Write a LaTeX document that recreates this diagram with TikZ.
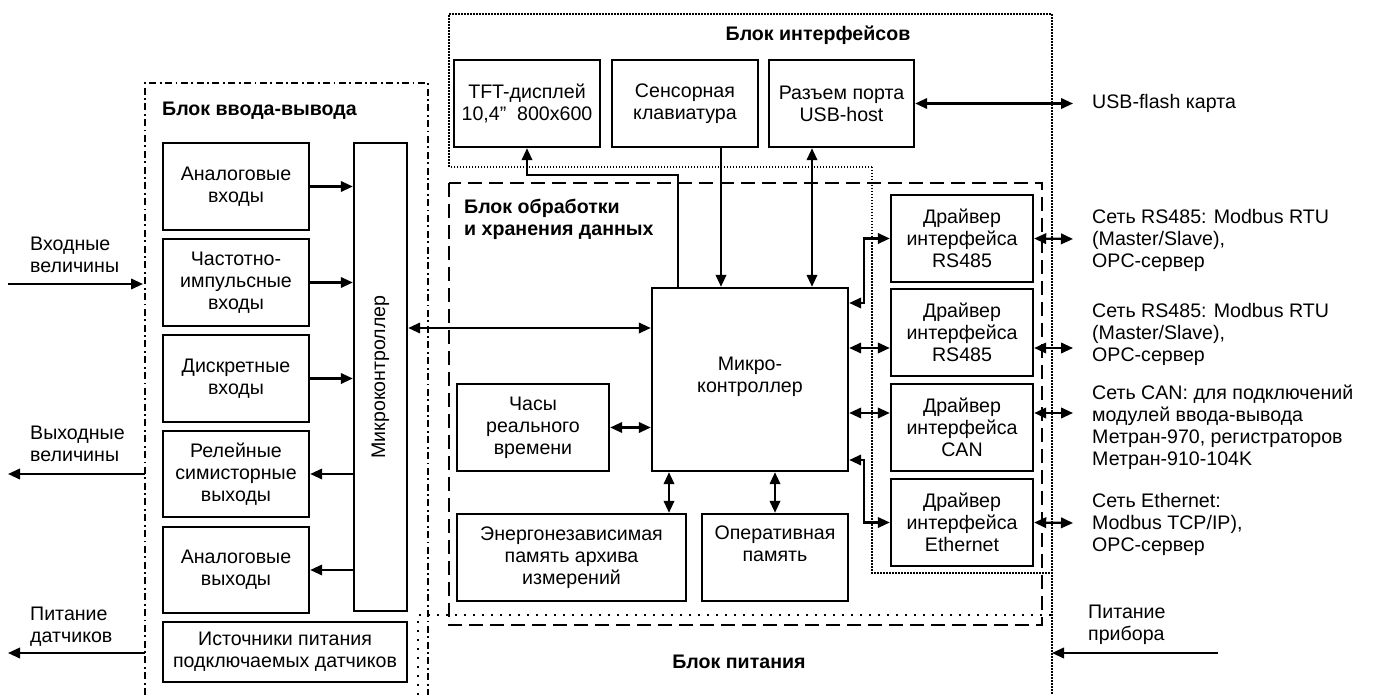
\documentclass[tikz,border=0pt]{standalone}
\usepackage{fontspec}
\setmainfont{Liberation Sans}
\usetikzlibrary{arrows.meta}
\newcommand\fs{\fontsize{19.6}{22}\selectfont}
\begin{document}
\begin{tikzpicture}[x=1pt,y=-1pt,
 box/.style={draw, line width=2.4pt, align=center, inner sep=0pt, font=\fs},
 conn/.style={line width=2.2pt},
 arr/.style={conn, -{Triangle[length=12pt,width=10.5pt]}},
 biarr/.style={conn, {Triangle[length=12pt,width=10.5pt]}-{Triangle[length=12pt,width=10.5pt]}},
 lbl/.style={align=left, inner sep=0pt, font=\fs, anchor=west},
 ttl/.style={font=\fs\bfseries, inner sep=0pt},
 iofr/.style={line width=1.8pt, dash pattern=on 7pt off 3.5pt on 1.8pt off 3.5pt},
 iffr/.style={line width=1.5pt, dash pattern=on 1.5pt off 1.5pt},
 pfr/.style={line width=2pt, dash pattern=on 2pt off 7pt},
 dfr/.style={line width=2pt, dash pattern=on 14pt off 7pt}
]
\useasboundingbox (0,0) rectangle (1379,695);
% frames
\draw[iofr] (145,695) -- (145,83) -- (428,83) -- (428,695);
\draw[iffr] (872,167) -- (449,167) -- (449,14) -- (1052,14) -- (1052,695);
\draw[iffr] (872,167) -- (872,573) -- (1052,573);
\draw[dfr] (449,183) rectangle (1042,625);
\draw[pfr] (418,695) -- (418,615) -- (1052,615);
% titles
\node[ttl, anchor=west] (tio) at (162,111) {Блок ввода-вывода};
\node[ttl] (tif) at (818,35) {Блок интерфейсов};
\node[ttl, align=left, anchor=west] (tpr) at (464,219) {Блок обработки\\и хранения данных};
\node[ttl] (tpw) at (739,662) {Блок питания};
% I/O block
\node[box, minimum width=146pt, minimum height=87pt] (ai) at (236,186.5) {Аналоговые\\входы};
\node[box, minimum width=146pt, minimum height=87pt] (fi) at (236,282.5) {Частотно-\\импульсные\\входы};
\node[box, minimum width=146pt, minimum height=87pt] (di) at (236,378.5) {Дискретные\\входы};
\node[box, minimum width=146pt, minimum height=86pt] (ro) at (236,474) {Релейные\\симисторные\\выходы};
\node[box, minimum width=146pt, minimum height=86pt] (ao) at (236,570) {Аналоговые\\выходы};
\node[box, minimum width=244pt, minimum height=60pt] (ps) at (285,652) {Источники питания\\подключаемых датчиков};
\node[box, minimum width=53pt, minimum height=468pt] (mc1) at (380.5,377) {};
\node[font=\fs, rotate=90, inner sep=0pt] (mc1t) at (mc1.center) {Микроконтроллер};
% interface block
\node[box, minimum width=146pt, minimum height=87pt] (tft) at (527,103.5) {TFT-дисплей\\10,4”\ \ 800x600};
\node[box, minimum width=146pt, minimum height=87pt] (kbd) at (685,103.5) {Сенсорная\\клавиатура};
\node[box, minimum width=145pt, minimum height=87pt] (usb) at (841.5,103.5) {Разъем порта\\USB-host};
% processing block
\node[box, minimum width=196pt, minimum height=183pt] (mcu) at (750,379.5) {};
\node[font=\fs, align=center, inner sep=0pt] (mcut) at (750,377) {Микро-\\контроллер};
\node[box, minimum width=152pt, minimum height=87pt] (clk) at (533,427.5) {Часы\\реального\\времени};
\node[box, minimum width=229pt, minimum height=87pt] (nv) at (571.5,557.5) {Энергонезависимая\\память архива\\измерений};
\node[box, minimum width=146pt, minimum height=87pt] (ram) at (775,557.5) {Оперативная\\память\\\strut};
% drivers
\node[box, minimum width=142pt, minimum height=87pt] (d1) at (962,238.5) {Драйвер\\интерфейса\\RS485};
\node[box, minimum width=142pt, minimum height=87pt] (d2) at (962,332.5) {Драйвер\\интерфейса\\RS485};
\node[box, minimum width=142pt, minimum height=87pt] (d3) at (962,427.5) {Драйвер\\интерфейса\\CAN};
\node[box, minimum width=142pt, minimum height=87pt] (d4) at (962,522.5) {Драйвер\\интерфейса\\Ethernet};
% external labels
\node[lbl] (lin) at (30,255) {Входные\\величины};
\node[lbl] (lout) at (30,444) {Выходные\\величины};
\node[lbl] (lpw) at (30,627) {Питание\\датчиков};
\node[lbl] (lpp) at (1088,625) {Питание\\прибора};
\node[lbl] (lusb) at (1092,103.5) {USB-flash карта};
\node[lbl] (ln1) at (1092,240) {Сеть RS485: Modbus RTU\\(Master/Slave),\\OPC-сервер};
\node[lbl] (ln2) at (1092,334.5) {Сеть RS485: Modbus RTU\\(Master/Slave),\\OPC-сервер};
\node[lbl] (ln3) at (1092,427.5) {Сеть CAN: для подключений\\модулей ввода-вывода\\Метран-970, регистраторов\\Метран-910-104K};
\node[lbl] (ln4) at (1092,524.5) {Сеть Ethernet:\\Modbus TCP/IP),\\OPC-сервер};
% free ends
\coordinate (inL) at (8,284);
\coordinate (inR) at (143,284);
\coordinate (outL) at (8,474);
\coordinate (outR) at (145,474);
\coordinate (pwL) at (8,653);
\coordinate (pwR) at (145,653);
\coordinate (ppR) at (1218,653);
\coordinate (ppL) at (1052,653);
\coordinate (usbR) at (1073,103.5);
\coordinate (e1) at (1073,239);
\coordinate (e2) at (1073,348);
\coordinate (e3) at (1073,413);
\coordinate (e4) at (1073,523);
\coordinate (m1) at (380,328);
\coordinate (d2a) at ([yshift=-15.5pt]d2.west);
\coordinate (d3a) at ([yshift=14.5pt]d3.west);
\coordinate (d2b) at ([yshift=-15.5pt]d2.east);
\coordinate (d3b) at ([yshift=14.5pt]d3.east);
\coordinate (nvt) at ([xshift=97.5pt]nv.north);
% I/O connectors
\draw[arr] (inL) -- (inR);
\draw[arr] (outR) -- (outL);
\draw[arr] (pwR) -- (pwL);
\draw[arr] (ppR) -- (ppL);
\draw[arr] (ai.east) -- (ai.east -| mc1.west);
\draw[arr] (fi.east) -- (fi.east -| mc1.west);
\draw[arr] (di.east) -- (di.east -| mc1.west);
\draw[arr] (ro.east -| mc1.west) -- (ro.east);
\draw[arr] (ao.east -| mc1.west) -- (ao.east);
\draw[biarr] (m1 -| mc1.east) -- (m1 -| mcu.west);
% interface connectors
\draw[arr] ([xshift=-72pt]mcu.north) |- ([yshift=-27pt]tft.south) -- (tft.south);
\draw[arr] ([xshift=36pt]kbd.south) -- ([xshift=36pt]kbd.south |- mcu.north);
\draw[biarr] ([xshift=-29.5pt]usb.south) -- ([xshift=-29.5pt]usb.south |- mcu.north);
\draw[biarr] (usb.east) -- (usbR);
% drivers
\draw[biarr] ([yshift=76.5pt]mcu.east) -| ([xshift=-26pt]d1.west) -- (d1.west);
\draw[biarr] (d2a -| mcu.east) -- (d2a);
\draw[biarr] (d3a -| mcu.east) -- (d3a);
\draw[biarr] ([yshift=-80.5pt]mcu.east) -| ([xshift=-26pt]d4.west) -- (d4.west);
\draw[biarr] (d1.east) -- (e1);
\draw[biarr] (d2b) -- (e2);
\draw[biarr] (d3b) -- (e3);
\draw[biarr] (d4.east) -- (e4);
% processing
\draw[biarr] (clk.east) -- (clk.east -| mcu.west);
\draw[biarr] (nvt) -- (nvt |- mcu.south);
\draw[biarr] (ram.north) -- (ram.north |- mcu.south);
\end{tikzpicture}
\end{document}
